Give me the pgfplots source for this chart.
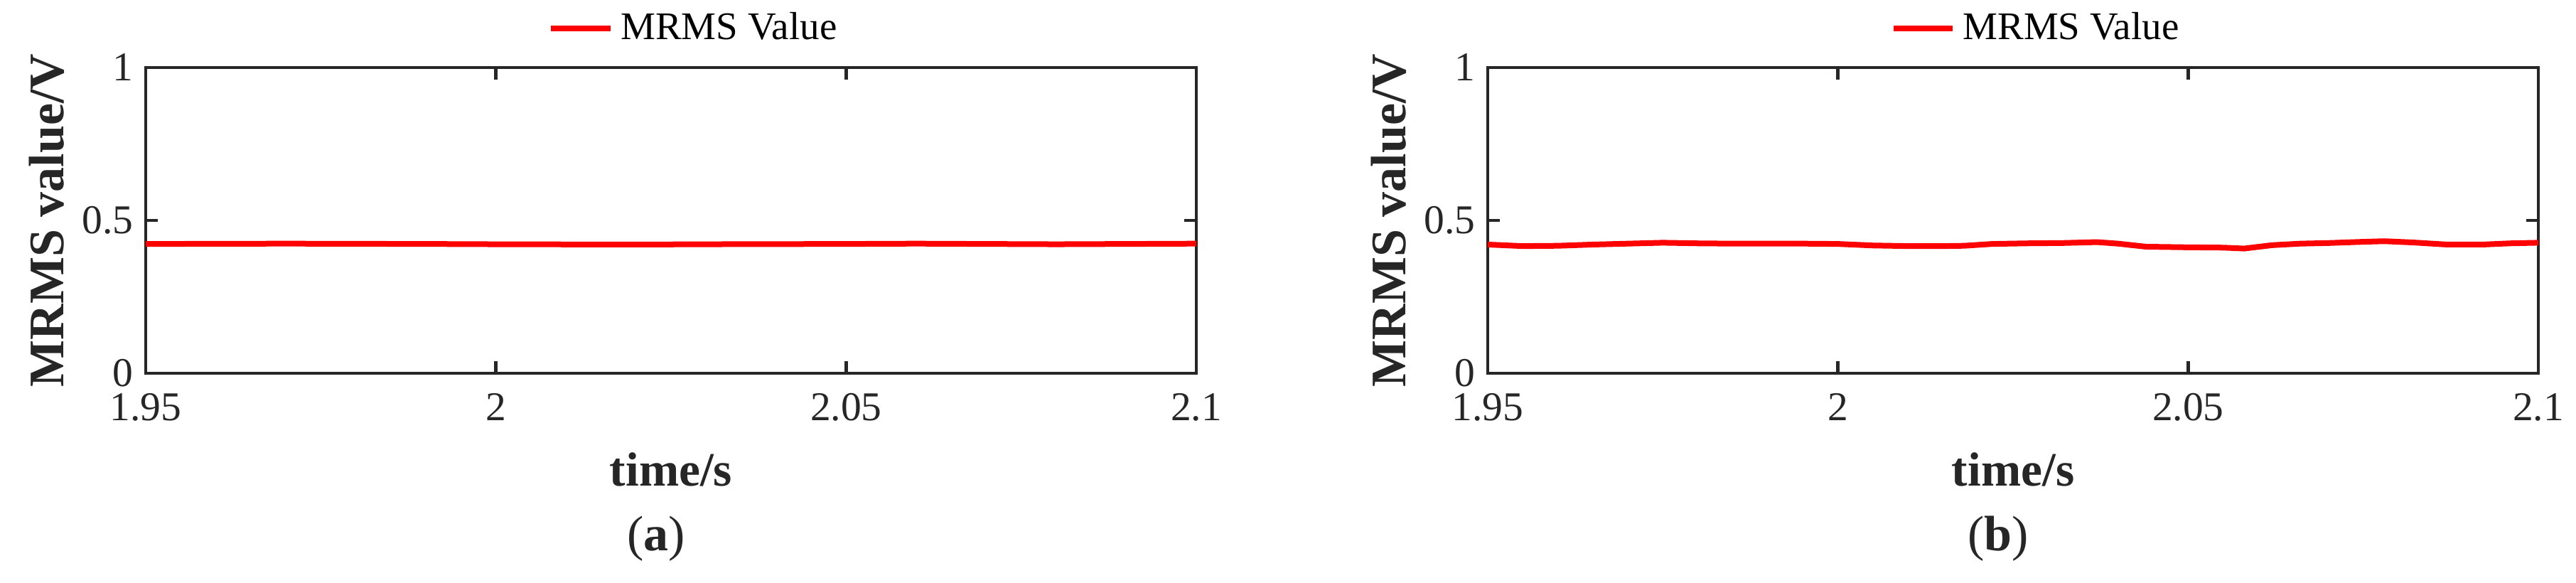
\documentclass[border=0pt]{standalone}
\usepackage{fontspec}
\setmainfont{Liberation Serif}
\usepackage{pgfplots}
\pgfplotsset{compat=1.18}

\definecolor{axgray}{RGB}{38,38,38}
\definecolor{mred}{RGB}{255,0,0}

\pgfplotsset{
  mrms/.style={
    scale only axis,
    width=295.6pt, height=86pt,
    anchor=south west,
    xmin=1.95, xmax=2.1, ymin=0, ymax=1,
    xtick={1.95,2,2.05,2.1},
    xticklabels={1.95,2,2.05,2.1},
    ytick={0,0.5,1},
    yticklabels={0,0.5,1},
    /pgf/number format/assume math mode=true,
    tick align=inside,
    major tick length=3.4pt,
    axis line style={axgray, line width=0.95pt},
    every tick/.style={axgray, line width=0.95pt},
    tick label style={font=\fontsize{11.5}{12}\selectfont, text=axgray},
    xticklabel style={yshift=-2.2pt},
    xlabel={\textbf{time/s}},
    ylabel={\textbf{MRMS value/V}},
    xlabel style={at={(axis description cs:0.5,-0.314)}, anchor=center,
      font=\fontsize{13.5}{14}\selectfont, text=axgray},
    ylabel style={at={(axis description cs:-0.094,0.5)}, anchor=center,
      font=\fontsize{14}{15}\selectfont, text=axgray},
    legend style={draw=none, fill=none, at={(axis description cs:0.524,1.128)},
      anchor=center, font=\fontsize{11}{12}\selectfont, inner sep=0pt},
    legend image code/.code={\draw[#1] (0cm,0cm) -- (0.59cm,0cm);},
    clip=false,
  },
}

\begin{document}
\begin{tikzpicture}
\path[use as bounding box] (0,0) rectangle (724.8pt,163.8pt);

% (a)
\begin{axis}[mrms, at={(41pt,58.8pt)}]
\addplot[mred, line width=1.6pt] coordinates {
  (1.950,0.423) (1.970,0.424) (1.990,0.423) (2.000,0.422) (2.020,0.421)
  (2.030,0.422) (2.050,0.423) (2.060,0.424) (2.070,0.423) (2.080,0.422)
  (2.090,0.423) (2.100,0.424)
};
\addlegendentry{MRMS Value}
\node[font=\fontsize{14}{15}\selectfont, text=axgray] at (axis description cs:0.486,-0.54) {(\textbf{a})};
\end{axis}

% (b)
\begin{axis}[mrms, at={(418.6pt,58.8pt)}]
\addplot[mred, line width=1.6pt] coordinates {
  (1.950,0.421) (1.955,0.416) (1.960,0.417) (1.965,0.421) (1.970,0.424)
  (1.975,0.427) (1.980,0.425) (1.985,0.424) (1.990,0.424) (1.995,0.424)
  (2.000,0.423) (2.005,0.418) (2.010,0.416) (2.015,0.416) (2.018,0.417)
  (2.022,0.423) (2.027,0.425) (2.032,0.426) (2.037,0.429) (2.040,0.424)
  (2.044,0.414) (2.050,0.412) (2.055,0.411) (2.058,0.408) (2.062,0.419)
  (2.066,0.424) (2.070,0.426) (2.075,0.430) (2.078,0.432) (2.082,0.428)
  (2.087,0.421) (2.092,0.421) (2.096,0.425) (2.100,0.427)
};
\addlegendentry{MRMS Value}
\node[font=\fontsize{14}{15}\selectfont, text=axgray] at (axis description cs:0.486,-0.54) {(\textbf{b})};
\end{axis}
\end{tikzpicture}
\end{document}
